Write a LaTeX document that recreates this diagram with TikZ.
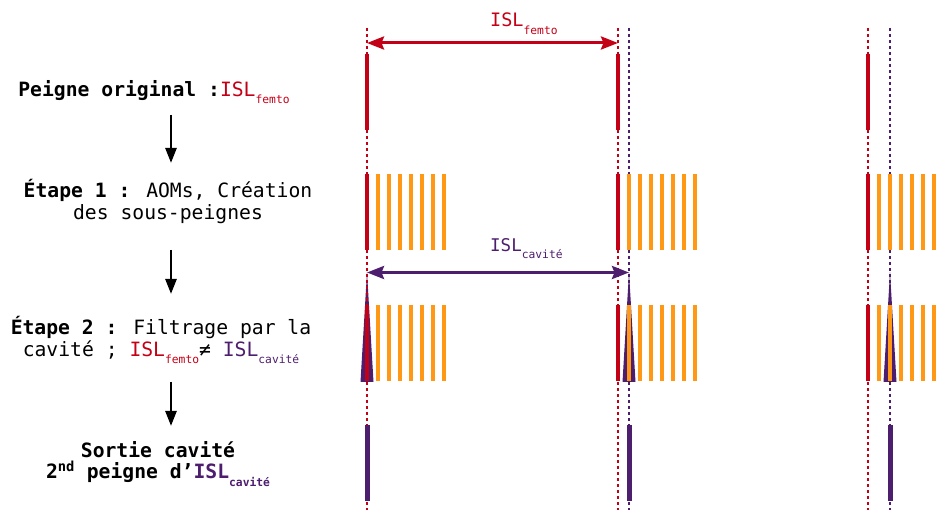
\documentclass[tikz,border=0pt]{standalone}
\usepackage{fontspec}
\setmainfont{DejaVu Sans Mono}
\usetikzlibrary{arrows.meta}
\definecolor{cred}{RGB}{196,0,22}
\definecolor{cpurp}{RGB}{78,30,110}
\definecolor{corange}{RGB}{255,152,20}
\newcommand{\mysub}[1]{\raisebox{-0.38em}{\fontsize{11.3}{11}\selectfont #1}}
\begin{document}
\begin{tikzpicture}[x=1pt,y=-1pt,
  lbl/.style={inner sep=0pt,font=\fontsize{19.7}{22}\selectfont,align=center},
  redbar/.style={cred,line width=4.5pt},
  orbar/.style={corange,line width=3.2pt},
  purbar/.style={cpurp,line width=5pt},
  reddash/.style={cred,line width=1.3pt,dash pattern=on 3pt off 3pt},
  purdash/.style={cpurp,line width=1.3pt,dash pattern=on 3pt off 3pt},
  flow/.style={black,line width=2.6pt,-{Triangle[length=15pt,width=11pt]}},
  islarrow/.style={line width=3pt,{Stealth[length=17pt,width=13pt,inset=2.5pt]}-{Stealth[length=17pt,width=13pt,inset=2.5pt]}}
]
\useasboundingbox (0,0) rectangle (940,510);
\clip (0,0) rectangle (940,510);

% left texts
\node[lbl] (p) at (154,92) {{\bfseries Peigne original :}{\color{cred}ISL\mysub{femto}}};
\node[lbl] (e1) at (168,201) {{\bfseries Étape 1 :} AOMs, Création\\des sous-peignes};
\node[lbl] (e2) at (161,340) {{\bfseries Étape 2 :} Filtrage par la\\cavité ; {\color{cred}ISL\mysub{femto}}≠ {\color{cpurp}ISL\mysub{cavité}}};
\node[lbl,font=\fontsize{19.7}{21}\selectfont\bfseries] (s) at (158,464) {Sortie cavité\\2\textsuperscript{nd} peigne d’{\color{cpurp}ISL\mysub{cavité}}};

\coordinate (a1s) at (171,115); \coordinate (a1e) at (171,163);
\coordinate (a2s) at (171,250); \coordinate (a2e) at (171,294);
\coordinate (a3s) at (171,382); \coordinate (a3e) at (171,426);
\draw[flow] (a1s) -- (a1e);
\draw[flow] (a2s) -- (a2e);
\draw[flow] (a3s) -- (a3e);

% triangles (cavity filter)
\foreach \x in {367,629,890} {
  \fill[cpurp] (\x-6.5,382) -- (\x,272) -- (\x+6.5,382) -- cycle;
}

% dashed guide lines
\foreach \x in {629,890} \draw[purdash] (\x,28) -- (\x,510);
\foreach \x in {367,618,868} \draw[reddash] (\x,28) -- (\x,510);

% bars
\foreach \x in {367,618,868} {
  \draw[redbar] (\x,54) -- (\x,130);
  \draw[redbar] (\x,174) -- (\x,250);
  \draw[redbar] (\x,305) -- (\x,381);
  \foreach \k in {1,...,7} {
    \draw[orbar] (\x+11*\k,174) -- (\x+11*\k,250);
    \draw[orbar] (\x+11*\k,305) -- (\x+11*\k,381);
  }
}
\foreach \x in {367,629,890} \draw[purbar] (\x,425) -- (\x,501);

% ISL arrows
\coordinate (f1) at (367,43); \coordinate (f2) at (618,43);
\coordinate (c1) at (367,272.5); \coordinate (c2) at (629,272.5);
\draw[islarrow,cred] (f1) -- (f2);
\draw[islarrow,cpurp] (c1) -- (c2);
\node[anchor=base west,inner sep=0pt,cred,font=\fontsize{18.5}{18}\selectfont] (lf) at (490,27) {ISL\mysub{femto}};
\node[anchor=base west,inner sep=0pt,cpurp,font=\fontsize{17.5}{17}\selectfont] (lc) at (490,252) {ISL\mysub{cavité}};
\end{tikzpicture}
\end{document}
